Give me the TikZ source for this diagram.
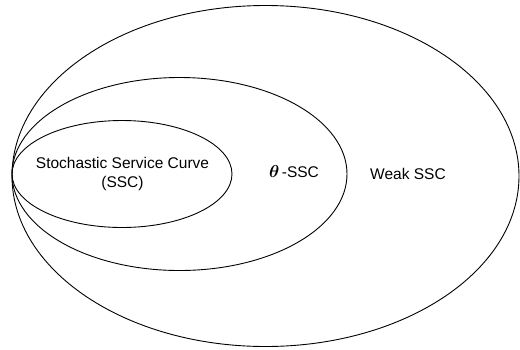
\documentclass[tikz,border=0pt]{standalone}
\usepackage{fontspec}
\setmainfont{Liberation Sans}
\begin{document}
\begin{tikzpicture}[x=1pt,y=-1pt,
  set/.style={draw=black,line width=0.9pt},
  lbl/.style={font=\fontsize{15.5}{19}\selectfont,align=center,inner sep=0pt}]
\useasboundingbox (0,0) rectangle (520,349);
% three nested sets, all touching at the left end
\draw[set] (265.5,176) ellipse [x radius=253.5, y radius=170.5];
\draw[set] (179.5,174) ellipse [x radius=167.5, y radius=96.5];
\draw[set] (122,174) ellipse [x radius=110, y radius=53.5];
% labels
\node[lbl] (ssc) at (122.5,173.5) {Stochastic Service Curve\\(SSC)};
\node[lbl] (theta) at (294,172) {{\fontsize{19}{19}\selectfont\boldmath$\theta$}\,-SSC};
\node[lbl] (weak) at (408,174) {Weak SSC};
\end{tikzpicture}
\end{document}
